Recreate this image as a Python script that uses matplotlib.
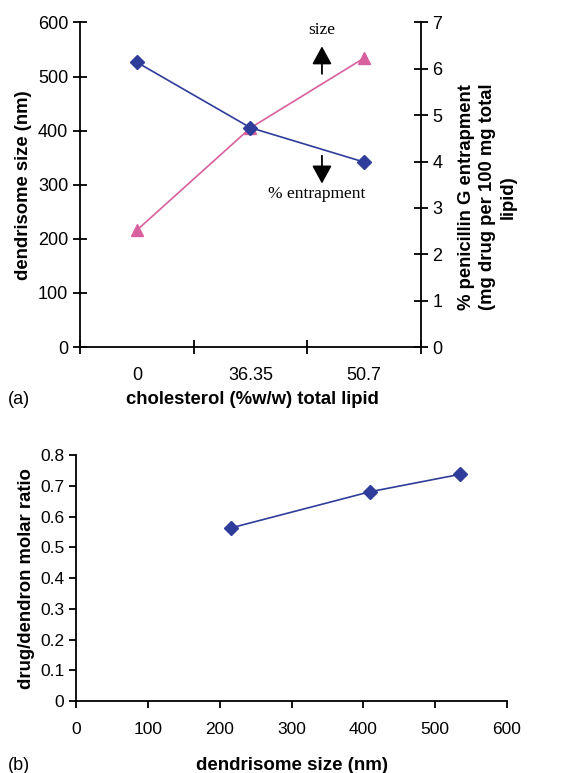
import matplotlib
matplotlib.use('Agg')
import matplotlib.pyplot as plt

plt.rcParams['font.family'] = ['Liberation Sans', 'DejaVu Sans']

# panel (a)
cholesterol = ['0', '36.35', '50.7']
size_nm = [216, 405, 534]
entrapment = [6.14, 4.73, 3.99]

# panel (b)
size_b = [215, 409, 535]
molar_ratio = [0.563, 0.681, 0.738]

blue = '#2F3C9A'
pink = '#D8609E'

fig = plt.figure(figsize=(5.64, 7.73), dpi=100)

# ---- panel (a) ----
ax = fig.add_axes([0.142, 0.551, 0.604, 0.420])
ax2 = ax.twinx()
x = list(range(len(cholesterol)))
ax.plot(x, size_nm, color=pink, marker='^', markersize=8.5, lw=1.2, zorder=3)
ax2.plot(x, entrapment, color=blue, marker='D', markersize=7, lw=1.2, zorder=3)

ax.set_xlim(-0.5, 2.5)
ax.set_ylim(0, 600)
ax.set_yticks(range(0, 601, 100))
ax2.set_ylim(0, 7)
ax2.set_yticks(range(0, 8))
ax.set_xticks([-0.5, 0.5, 1.5, 2.5])
ax.set_xticklabels([])
ax.set_xticks(x, minor=True)
ax.set_xticklabels(cholesterol, minor=True)
ax.tick_params(axis='x', which='minor', length=0, labelsize=13, pad=14)
ax.tick_params(axis='x', which='major', direction='inout', length=10, width=1.3)
ax.tick_params(axis='y', direction='inout', length=10, width=1.3, labelsize=13)
ax2.tick_params(axis='y', direction='inout', length=10, width=1.3, labelsize=13)
for a in (ax, ax2):
    a.spines['top'].set_visible(False)
    for s in ('left', 'right', 'bottom'):
        a.spines[s].set_linewidth(1.3)
ax.spines['right'].set_visible(False)
ax2.spines['left'].set_visible(False)
ax2.spines['bottom'].set_visible(False)

ax.set_ylabel('dendrisome size (nm)', fontsize=13.3, fontweight='bold', labelpad=4)
# right-hand label placed by hand, it sits a bit lower than the axis centre
fig.text(487 / 564, 1 - 197 / 773,
         '% penicillin G entrapment\n(mg drug per 100 mg total\nlipid)',
         fontsize=13.3, fontweight='bold', rotation=90, ha='center', va='center',
         multialignment='center', linespacing=1.3)

arrow = dict(arrowstyle='-|>,head_width=0.6,head_length=1.1', color='black', lw=1.3)
ax.annotate('', xy=(0.71, 0.935), xytext=(0.71, 0.833), xycoords='axes fraction',
            arrowprops=arrow)
ax.annotate('', xy=(0.71, 0.495), xytext=(0.71, 0.598), xycoords='axes fraction',
            arrowprops=arrow)
ax.text(0.71, 0.977, 'size', transform=ax.transAxes, ha='center', va='center',
        fontsize=12.5, family='Liberation Serif')
ax.text(0.695, 0.472, '% entrapment', transform=ax.transAxes, ha='center', va='center',
        fontsize=12.5, family='Liberation Serif')

fig.text(8 / 564, 1 - 399 / 773, '(a)', fontsize=13, ha='left', va='center')
fig.text(252 / 564, 1 - 399 / 773, 'cholesterol (%w/w) total lipid', fontsize=13.3,
         fontweight='bold', ha='center', va='center')

# ---- panel (b) ----
bx = fig.add_axes([0.135, 0.0931, 0.764, 0.318])
bx.plot(size_b, molar_ratio, color=blue, marker='D', markersize=7, lw=1.2)
bx.set_xlim(0, 600)
bx.set_ylim(0, 0.8)
bx.set_xticks(range(0, 601, 100))
bx.set_yticks([i / 10 for i in range(9)])
bx.set_yticklabels(['0'] + ['%.1f' % (i / 10) for i in range(1, 9)])
bx.tick_params(direction='out', length=5, width=1.3, labelsize=12.5)
bx.tick_params(axis='x', pad=10)
bx.spines['top'].set_visible(False)
bx.spines['right'].set_visible(False)
for s in ('left', 'bottom'):
    bx.spines[s].set_linewidth(1.3)
bx.set_ylabel('drug/dendron molar ratio', fontsize=13.3, fontweight='bold', labelpad=4)

fig.text(8 / 564, 1 - 766 / 773, '(b)', fontsize=13, ha='left', va='center')
fig.text(292 / 564, 1 - 766 / 773, 'dendrisome size (nm)', fontsize=13.5,
         fontweight='bold', ha='center', va='center')

fig.savefig('out.png', dpi=100)
